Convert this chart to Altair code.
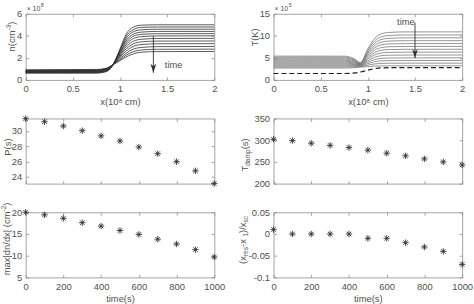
import altair as alt
import pandas as pd

# ---------------------------------------------------------------- data
# Spatial profiles at successive times (x in 1e8 cm)
X_PROFILE = [0, 0.75, 0.85, 0.92, 1.0, 1.07, 1.14, 1.22, 1.4, 2.0]

# density n(x), units of 1e8 cm^-3, earliest time first
N_PROFILES = [
    [0.62, 0.62, 0.75, 1.28, 2.81, 4.21, 4.78, 4.96, 5.00, 5.00],
    [0.64, 0.64, 0.76, 1.26, 2.72, 4.01, 4.55, 4.76, 4.80, 4.80],
    [0.67, 0.69, 0.81, 1.30, 2.64, 3.81, 4.36, 4.54, 4.60, 4.60],
    [0.69, 0.71, 0.84, 1.32, 2.55, 3.62, 4.14, 4.33, 4.40, 4.40],
    [0.72, 0.74, 0.88, 1.35, 2.46, 3.43, 3.96, 4.13, 4.19, 4.20],
    [0.74, 0.77, 0.90, 1.36, 2.37, 3.25, 3.74, 3.92, 3.99, 4.00],
    [0.77, 0.80, 0.94, 1.37, 2.27, 3.05, 3.50, 3.68, 3.76, 3.77],
    [0.79, 0.82, 0.95, 1.37, 2.16, 2.85, 3.26, 3.45, 3.52, 3.53],
    [0.82, 0.85, 0.98, 1.36, 2.06, 2.65, 3.04, 3.20, 3.28, 3.29],
    [0.85, 0.88, 1.00, 1.35, 1.94, 2.44, 2.79, 2.94, 3.02, 3.03],
    [0.88, 0.91, 1.02, 1.34, 1.84, 2.26, 2.56, 2.71, 2.78, 2.79],
    [0.92, 0.95, 1.05, 1.34, 1.75, 2.10, 2.36, 2.51, 2.57, 2.58],
]

# temperature T(x), units of 1e5 K, earliest time first
T_PROFILES = [
    [5.40, 5.38, 4.88, 3.90, 7.05, 9.36, 10.41, 10.76, 10.89, 10.90],
    [5.17, 5.15, 4.70, 3.82, 6.69, 8.80, 9.75, 10.07, 10.19, 10.20],
    [4.95, 4.93, 4.53, 3.74, 6.35, 8.27, 9.14, 9.43, 9.54, 9.55],
    [4.72, 4.70, 4.35, 3.66, 6.02, 7.75, 8.53, 8.80, 8.89, 8.90],
    [4.50, 4.48, 4.18, 3.58, 5.68, 7.22, 7.92, 8.16, 8.24, 8.25],
    [4.27, 4.26, 4.00, 3.50, 5.35, 6.70, 7.31, 7.52, 7.59, 7.60],
    [4.05, 4.04, 3.83, 3.42, 5.01, 6.17, 6.70, 6.88, 6.94, 6.95],
    [3.82, 3.81, 3.65, 3.34, 4.67, 5.65, 6.09, 6.24, 6.29, 6.30],
    [3.60, 3.59, 3.48, 3.26, 4.34, 5.12, 5.48, 5.60, 5.64, 5.65],
    [3.37, 3.36, 3.30, 3.18, 4.00, 4.60, 4.87, 4.96, 4.99, 5.00],
    [3.15, 3.15, 3.13, 3.10, 3.69, 4.11, 4.31, 4.37, 4.40, 4.40],
    [2.92, 2.92, 2.95, 3.00, 3.36, 3.62, 3.74, 3.78, 3.80, 3.80],
    [2.70, 2.70, 2.77, 2.90, 3.04, 3.13, 3.18, 3.19, 3.20, 3.20],
]
# initial (equilibrium) temperature profile, dashed
T_INITIAL = [1.45, 1.46, 1.55, 1.80, 2.20, 2.55, 2.72, 2.78, 2.80, 2.80]

# time series
TIME = [0, 100, 200, 300, 400, 500, 600, 700, 800, 900, 1000]
PERIOD = [31.6, 31.2, 30.64, 30.04, 29.36, 28.7, 27.9, 27.04, 26.0, 24.8, 23.14]
T_DAMP = [302, 299, 293, 288, 283, 277, 270, 264, 257, 250, 243]
MAX_GRAD = [20.0, 19.4, 18.6, 17.6, 16.8, 15.8, 14.9, 13.8, 12.7, 11.4, 9.7]
SHIFT = [0.01, 0, 0, 0, 0, -0.01, -0.01, -0.02, -0.03, -0.04, -0.07]

X_TICKS = [0, 0.5, 1, 1.5, 2]
TIME_TICKS = [0, 200, 400, 600, 800, 1000]

# ---------------------------------------------------------------- style
FONT = "Liberation Sans"
FRAME = "#8c8c8c"
TXT = "#505050"
INK = "#303030"
W = 191
FS = 9.5

STAR = "M0,-1L0,1M-1,0L1,0M-0.7,-0.7L0.7,0.7M-0.7,0.7L0.7,-0.7"
HEAD = "M0,0L-0.65,-2L0,-1.45L0.65,-2Z"

CHAR_W = {
    "n": 556, "(": 333, ")": 333, "c": 500, "m": 833, "T": 611, "K": 667,
    "P": 667, "s": 500, "d": 556, "a": 556, "p": 556, "x": 500, "|": 260,
    "/": 278, " ": 278, "-": 333, "r": 333, "e": 556, "×": 584, "i": 222,
    "t": 278,
}


def text_width(s, size):
    return sum(CHAR_W.get(c, 556) for c in s) * size / 1000.0


ONE = pd.DataFrame({"k": [0]})


def label_text(text, x, y, size, angle=0):
    props = dict(text=text, align="left", baseline="alphabetic",
                 fontSize=size, font=FONT, color=TXT)
    if angle:
        props["angle"] = angle
    return alt.Chart(ONE).mark_text(**props).encode(
        x=alt.value(x), y=alt.value(y))


def rotated_title(segments, x0, yc, size=FS):
    """Vertical axis title built from normal / superscript / subscript runs."""
    sizes = {"n": size, "sup": size * 0.7, "sub": size * 0.7}
    shifts = {"n": 0.0, "sup": -size * 0.40, "sub": size * 0.25}
    total = sum(text_width(t, sizes[k]) for t, k in segments)
    y = yc + total / 2.0
    out = []
    for t, k in segments:
        out.append(label_text(t, x0 + shifts[k], y, sizes[k], angle=270))
        y -= text_width(t, sizes[k])
    return out


def exponent(power):
    base = "× 10"
    return [label_text(base, 1, -3, 7),
            label_text(power, 1 + text_width(base, 7) + 0.5, -6.5, 5.5)]


def tick_axis(orient, offset, values):
    # frame edge plus inward-pointing ticks
    return alt.Axis(orient=orient, offset=offset, values=values, labels=False,
                    domain=True, domainColor=FRAME, domainWidth=0.8,
                    grid=False, ticks=True, tickSize=3,
                    tickColor=FRAME, tickWidth=0.8, title=None)


def label_axis(orient, values, show=True, title=None):
    return alt.Axis(orient=orient, values=values, labels=show,
                    labelExpr="'' + datum.value", ticks=False, domain=False,
                    grid=False, labelPadding=4, labelFlush=False,
                    labelOverlap=False, labelFontSize=FS, labelColor=TXT,
                    labelFont=FONT, title=title, titlePadding=3,
                    titleFontSize=FS, titleFontWeight="normal",
                    titleColor=TXT, titleFont=FONT)


def panel(main_layers, xdom, ydom, xt, yt, h, xlabels, xtitle, extras):
    xs = alt.Scale(domain=xdom, nice=False, zero=False)
    ys = alt.Scale(domain=ydom, nice=False, zero=False)
    frame_df = pd.DataFrame({"x": xdom, "y": ydom})
    layers = []
    for i, (df, mk, enc) in enumerate(main_layers):
        xa = label_axis("bottom", xt, xlabels, xtitle) if i == 0 else None
        ya = label_axis("left", yt) if i == 0 else None
        layers.append(mk(alt.Chart(df)).encode(
            x=alt.X("x:Q", scale=xs, axis=xa),
            y=alt.Y("y:Q", scale=ys, axis=ya),
            **enc))
    inner_a = alt.Chart(frame_df).mark_point(opacity=0).encode(
        x=alt.X("x:Q", scale=xs, axis=tick_axis("top", -h, xt)),
        y=alt.Y("y:Q", scale=ys, axis=tick_axis("right", -W, yt)))
    inner_b = alt.Chart(frame_df).mark_point(opacity=0).encode(
        x=alt.X("x:Q", scale=xs, axis=tick_axis("bottom", -h, xt)),
        y=alt.Y("y:Q", scale=ys, axis=tick_axis("left", -W, yt)))
    layers += [inner_a, inner_b]
    for e in extras:
        if isinstance(e, tuple):
            df, mk, enc = e
            layers.append(mk(alt.Chart(df)).encode(
                x=alt.X("x:Q", scale=xs, axis=None),
                y=alt.Y("y:Q", scale=ys, axis=None), **enc))
        else:
            layers.append(e)
    return alt.layer(*layers).resolve_axis(x="independent", y="independent") \
        .properties(width=W, height=h)


def spacer(h):
    return alt.Chart(ONE).mark_point(opacity=0).encode(
        x=alt.value(0), y=alt.value(0)).properties(width=W, height=h)


def arrow(x, y_start, y_tip, label, lx, ly):
    rule_df = pd.DataFrame({"x": [x], "y": [y_start], "y2": [y_tip]})
    tip_df = pd.DataFrame({"x": [x], "y": [y_tip]})
    txt_df = pd.DataFrame({"x": [lx], "y": [ly]})
    return [
        (rule_df, lambda c: c.mark_rule(color=INK, strokeWidth=0.9),
         {"y2": "y2:Q"}),
        (tip_df, lambda c: c.mark_point(shape=HEAD, size=81, filled=True,
                                        color=INK, opacity=1), {}),
        (txt_df, lambda c: c.mark_text(text=label, align="left",
                                       baseline="alphabetic", fontSize=FS,
                                       font=FONT, color=TXT), {}),
    ]


def profiles(rows):
    recs = []
    for i, row in enumerate(rows):
        for xv, yv in zip(X_PROFILE, row):
            recs.append({"curve": i, "x": xv, "y": yv})
    return pd.DataFrame(recs)


def series(values):
    return pd.DataFrame({"x": TIME, "y": values})


def stars(c):
    return c.mark_point(shape=STAR, size=42, filled=False, color=INK,
                        strokeWidth=0.9, opacity=1)


H_TOP, H_MID, H_BOT = 67, 66, 66
ROW_GAP = 5

# ---- n(x)
tl = panel(
    [(profiles(N_PROFILES),
      lambda c: c.mark_line(color=INK, strokeWidth=0.8, interpolate="monotone"),
      {"detail": "curve:N"})],
    [0, 2], [0, 6], X_TICKS, [0, 2, 4, 6], H_TOP, True, "x(10⁸ cm)",
    arrow(1.354, 4.0, 0.65, "time", 1.476, 1.04)
    + rotated_title([("n(cm", "n"), ("-3", "sup"), (")", "n")], -11, 23)
    + exponent("8")
    + [alt.Chart(ONE).mark_rule(strokeOpacity=0).encode(
        x=alt.value(-24), x2=alt.value(-23), y=alt.value(-11), y2=alt.value(-10))],
)

# ---- T(x)
tr = panel(
    [(profiles(T_PROFILES),
      lambda c: c.mark_line(color="#787878", strokeWidth=0.8,
                            interpolate="monotone"),
      {"detail": "curve:N"}),
     (pd.DataFrame({"x": X_PROFILE, "y": T_INITIAL}),
      lambda c: c.mark_line(color="#202020", strokeWidth=1.2,
                            strokeDash=[5, 3], interpolate="monotone"), {})],
    [0, 2], [0, 15], X_TICKS, [0, 5, 10, 15], H_TOP, True, "x(10⁸ cm)",
    arrow(1.5, 13.0, 4.95, "time", 1.31, 12.55)
    + rotated_title([("T(K)", "n")], -16, 24)
    + exponent("5"),
)

# ---- period
ml = panel(
    [(series(PERIOD), stars, {})],
    [0, 1000], [23.14, 31.63], TIME_TICKS, [24, 26, 28, 30], H_MID, False, None,
    rotated_title([("P(s)", "n")], -15, 29),
)

# ---- damping time
mr = panel(
    [(series(T_DAMP), stars, {})],
    [0, 1000], [200, 350], TIME_TICKS, [200, 250, 300, 350], H_MID, False, None,
    rotated_title([("T", "n"), ("damp", "sub"), ("(s)", "n")], -26, 37),
)

# ---- max density gradient
bl = panel(
    [(series(MAX_GRAD), stars, {})],
    [0, 1000], [5, 20], TIME_TICKS, [5, 10, 15, 20], H_BOT, True, "time(s)",
    rotated_title([("max|dn/dx| (cm", "n"), ("-2", "sup"), (")", "n")], -16, 27),
)

# ---- resonance position shift
br = panel(
    [(series(SHIFT), stars, {})],
    [0, 1000], [-0.1, 0.05], TIME_TICKS, [-0.1, -0.05, 0, 0.05], H_BOT, True,
    "time(s)",
    rotated_title([("(x", "n"), ("res", "sub"), (" -x", "n"), ("1", "sub"),
                   (")/x", "n"), ("sc", "sub")], -28, 28),
)

# rows: top, gap, middle, gap, bottom (uniform grid spacing + spacer rows)
gap1 = 39 - 2 * ROW_GAP
gap2 = 29 - 2 * ROW_GAP

chart = alt.concat(
    tl, tr,
    spacer(gap1), spacer(gap1),
    ml, mr,
    spacer(gap2), spacer(gap2),
    bl, br,
    columns=2, spacing={"row": ROW_GAP, "column": 60}, bounds="flush",
).properties(
    padding=0
).configure_view(
    stroke="transparent"
).configure_text(font=FONT)

chart.save("out.html", embed_options={"renderer": "svg", "actions": False})
